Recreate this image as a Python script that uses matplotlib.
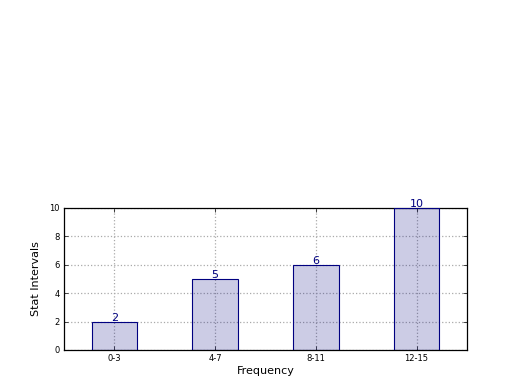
import matplotlib
matplotlib.use('Agg')
import matplotlib.pyplot as plt

categories = ['0-3', '4-7', '8-11', '12-15']
counts = [2, 5, 6, 10]
y_ticks = [0, 2, 4, 6, 8, 10]

fig = plt.figure(figsize=(5.2, 3.9), dpi=100)
ax = fig.add_axes([0.123, 0.1026, 0.775, 0.3641])

pos = list(range(len(categories)))
ax.bar(pos, counts, width=0.45, color='navy', alpha=0.2, zorder=2)
ax.bar(pos, counts, width=0.45, fill=False, edgecolor='navy', linewidth=0.8, zorder=3)

for x, v in zip(pos, counts):
    ax.text(x, v - 0.1, str(v), ha='center', va='bottom', color='navy', fontsize=8, zorder=4)

ax.set_xlim(-0.5, 3.5)
ax.set_ylim(0, 10)
ax.set_xticks(pos)
ax.set_xticklabels(categories, fontsize=6)
ax.set_yticks(y_ticks)
ax.set_yticklabels([str(t) for t in y_ticks], fontsize=6)
ax.tick_params(direction='in', top=True, right=True, length=3, width=0.5, pad=3)
ax.grid(True, linestyle=':', color='#aaaaaa', linewidth=0.9, zorder=0)
ax.set_axisbelow(True)
for s in ax.spines.values():
    s.set_linewidth(0.9)

ax.set_xlabel('Frequency', fontsize=8, labelpad=2)
ax.set_ylabel('Stat Intervals', fontsize=8, labelpad=6)

fig.savefig('out.png', dpi=100)
